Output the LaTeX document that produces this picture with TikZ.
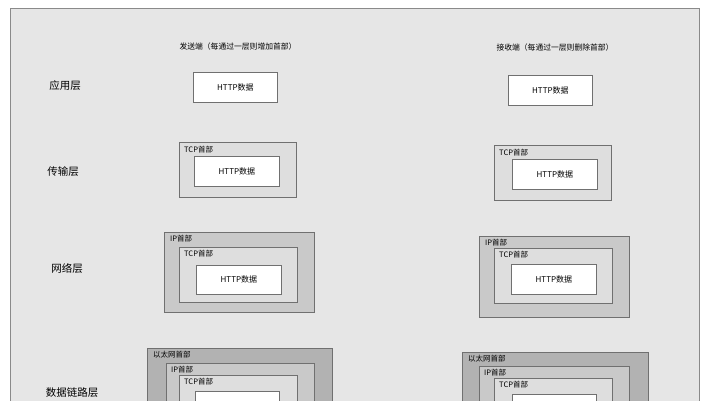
\documentclass[tikz,border=0pt]{standalone}
\usepackage{fontspec}
\setmainfont{Noto Sans CJK SC}
\definecolor{bgc}{HTML}{E6E6E6}
\definecolor{framec}{HTML}{8A8A8A}
\definecolor{edgec}{HTML}{707070}
\definecolor{tcpc}{HTML}{DEDEDE}
\definecolor{ipc}{HTML}{C9C9C9}
\definecolor{ethc}{HTML}{B2B2B2}
\tikzset{
  pbox/.style={draw=edgec, line width=0.8pt, inner sep=0pt, anchor=north west},
  httpbox/.style={pbox, fill=white, font=\fontsize{8}{9}\selectfont, minimum width=85pt, minimum height=30pt},
  tcpbox/.style={pbox, fill=tcpc, minimum width=117pt, minimum height=55pt},
  ipbox/.style={pbox, fill=ipc, minimum width=150pt, minimum height=80pt},
  ethbox/.style={pbox, fill=ethc, minimum width=185pt, minimum height=100pt},
  hdr/.style={anchor=west, inner sep=0pt, font=\fontsize{7.5}{8}\selectfont},
  layer/.style={inner sep=0pt, font=\fontsize{10.5}{12}\selectfont},
  ttl/.style={inner sep=0pt, font=\fontsize{7.8}{9}\selectfont}
}
\begin{document}
\begin{tikzpicture}[x=1pt,y=-1pt]
\useasboundingbox (0,0) rectangle (710,400);
\clip (0,0) rectangle (710,400);
\fill[white] (0,0) rectangle (710,400);
\draw[draw=framec, fill=bgc, line width=0.8pt] (10,8) rectangle (699.5,420);

% titles
\node[ttl] (tl) at (238,47) {发送端（每通过一层则增加首部）};
\node[ttl] (tr) at (555,48) {接收端（每通过一层则删除首部）};

% layer labels
\node[layer] (l1) at (65,86) {应用层};
\node[layer] (l2) at (63,172) {传输层};
\node[layer] (l3) at (67,268) {网络层};
\node[layer] (l4) at (72,393) {数据链路层};

% ---- left: application
\node[httpbox, minimum width=84pt] (lh1) at (193,72) {HTTP数据};
% ---- left: transport
\node[tcpbox] (lt2) at (179,142) {};
\node[hdr] (lt2h) at ([shift={(5,8)}]lt2.north west) {TCP首部};
\node[httpbox] (lh2) at (194,156) {HTTP数据};
% ---- left: network
\node[ipbox] (li3) at (164,232) {};
\node[hdr] (li3h) at ([shift={(6,7)}]li3.north west) {IP首部};
\node[tcpbox, minimum width=118pt] (lt3) at (179,247) {};
\node[hdr] (lt3h) at ([shift={(5,7)}]lt3.north west) {TCP首部};
\node[httpbox, minimum height=29pt] (lh3) at (196,265) {HTTP数据};
% ---- left: data link (cut off by the page edge)
\node[ethbox] (le4) at (147,348) {};
\node[hdr] (le4h) at ([shift={(6,6.5)}]le4.north west) {以太网首部};
\node[ipbox, minimum width=148pt] (li4) at (166,363) {};
\node[hdr] (li4h) at ([shift={(5,6.5)}]li4.north west) {IP首部};
\node[tcpbox, minimum width=118pt] (lt4) at (179,375) {};
\node[hdr] (lt4h) at ([shift={(5,7)}]lt4.north west) {TCP首部};
\node[httpbox, minimum width=84pt] (lh4) at (195,391) {};

% ---- right: application
\node[httpbox, minimum width=84pt] (rh1) at (508,75) {HTTP数据};
% ---- right: transport
\node[tcpbox] (rt2) at (494,145) {};
\node[hdr] (rt2h) at ([shift={(5,8)}]rt2.north west) {TCP首部};
\node[httpbox] (rh2) at (512,159) {HTTP数据};
% ---- right: network
\node[ipbox, minimum height=81pt] (ri3) at (479,236) {};
\node[hdr] (ri3h) at ([shift={(6,7)}]ri3.north west) {IP首部};
\node[tcpbox, minimum width=118pt] (rt3) at (494,248) {};
\node[hdr] (rt3h) at ([shift={(5,7)}]rt3.north west) {TCP首部};
\node[httpbox] (rh3) at (511,264) {HTTP数据};
% ---- right: data link (cut off by the page edge)
\node[ethbox, minimum width=186pt] (re4) at (462,352) {};
\node[hdr] (re4h) at ([shift={(6,6.5)}]re4.north west) {以太网首部};
\node[ipbox] (ri4) at (479,366) {};
\node[hdr] (ri4h) at ([shift={(5,6.5)}]ri4.north west) {IP首部};
\node[tcpbox, minimum width=118pt] (rt4) at (494,378) {};
\node[hdr] (rt4h) at ([shift={(5,7)}]rt4.north west) {TCP首部};
\node[httpbox, minimum width=84pt] (rh4) at (512,394) {};
\end{tikzpicture}
\end{document}
